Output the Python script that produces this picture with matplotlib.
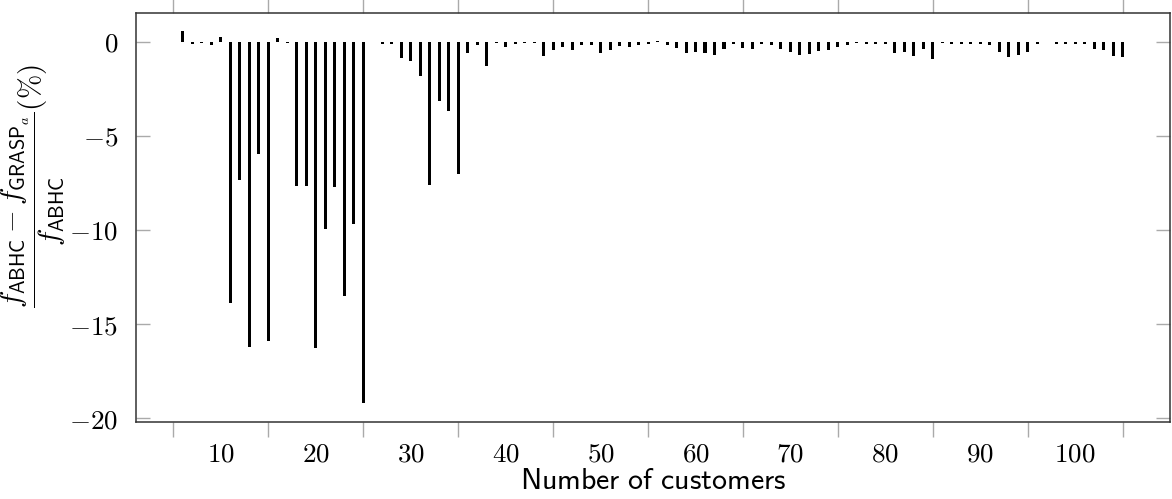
import matplotlib
matplotlib.use("Agg")
import matplotlib.pyplot as plt
from matplotlib.ticker import FuncFormatter

plt.rcParams['mathtext.fontset'] = 'cm'
plt.rcParams['font.size'] = 19.5

# customers 6..105, relative gap in %
customers = list(range(6, 106))
gap = [
    0.55, -0.15, -0.08, -0.18, 0.25, -13.9, -7.37, -16.2, -5.98, -15.9,      # 6-15
    0.2, -0.05, -7.64, -7.69, -16.24, -9.93, -7.74, -13.5, -9.66, -19.19,    # 16-25
    -0.04, -0.15, -0.13, -0.86, -1.04, -1.83, -7.6, -3.14, -3.7, -7.04,      # 26-35
    -0.6, -0.18, -1.29, -0.08, -0.26, -0.1, -0.07, -0.05, -0.78, -0.44,      # 36-45
    -0.3, -0.45, -0.18, -0.18, -0.6, -0.42, -0.25, -0.27, -0.16, -0.1,       # 46-55
    0.04, -0.2, -0.32, -0.58, -0.53, -0.6, -0.71, -0.37, -0.15, -0.35,       # 56-65
    -0.37, -0.12, -0.17, -0.41, -0.56, -0.72, -0.65, -0.51, -0.42, -0.28,    # 66-75
    -0.2, -0.06, -0.13, -0.15, -0.1, -0.62, -0.56, -0.74, -0.41, -0.93,      # 76-85
    -0.07, -0.12, -0.12, -0.15, -0.15, -0.2, -0.54, -0.8, -0.7, -0.57,       # 86-95
    -0.15, -0.04, -0.13, -0.13, -0.13, -0.13, -0.38, -0.42, -0.75, -0.8,     # 96-105
]
label_ticks = list(range(10, 101, 10))
mark_ticks = list(range(5, 106, 10))
y_ticks = [0, -5, -10, -15, -20]

fig = plt.figure(figsize=(11.72, 4.99), dpi=100)
ax = fig.add_axes([0.116, 0.155, 0.882, 0.8195])

ax.bar(customers, gap, width=0.32, color='black', linewidth=0)

# same padding pgfplots uses (5% of the data range)
xr = customers[-1] - customers[0]
ax.set_xlim(customers[0] - 0.05 * xr, customers[-1] + 0.05 * xr)
yr = max(gap) - min(gap)
ax.set_ylim(min(gap) - 0.05 * yr, max(gap) + 0.05 * yr)

ax.set_xticks(mark_ticks)
ax.set_xticklabels([])
ax.set_xticks(label_ticks, minor=True)
ax.xaxis.set_minor_formatter(FuncFormatter(lambda v, p: '$%d$' % v))
ax.tick_params(axis='x', which='major', direction='out', length=11, width=1,
               color='#aaaaaa', top=True, bottom=True)
ax.tick_params(axis='x', which='minor', length=0, pad=14)

ax.set_yticks(y_ticks)
ax.yaxis.set_major_formatter(FuncFormatter(lambda v, p: '$%d$' % v))
ax.tick_params(axis='y', direction='in', length=10, width=1, color='#aaaaaa',
               left=True, right=True, pad=13)

for s in ax.spines.values():
    s.set_linewidth(1.1)
    s.set_color('#333333')

ax.set_xlabel(r'$\mathsf{Number\ of\ customers}$', fontsize=21.5, labelpad=-1)
fig.text(33 / 1172, 1 - 186 / 499,
         r'$\dfrac{f_{\mathsf{ABHC}} - f_{\mathsf{GRASP}_a}}{f_{\mathsf{ABHC}}}(\%)$',
         fontsize=21, rotation=90, ha='center', va='center')

fig.savefig('out.png', dpi=100)
